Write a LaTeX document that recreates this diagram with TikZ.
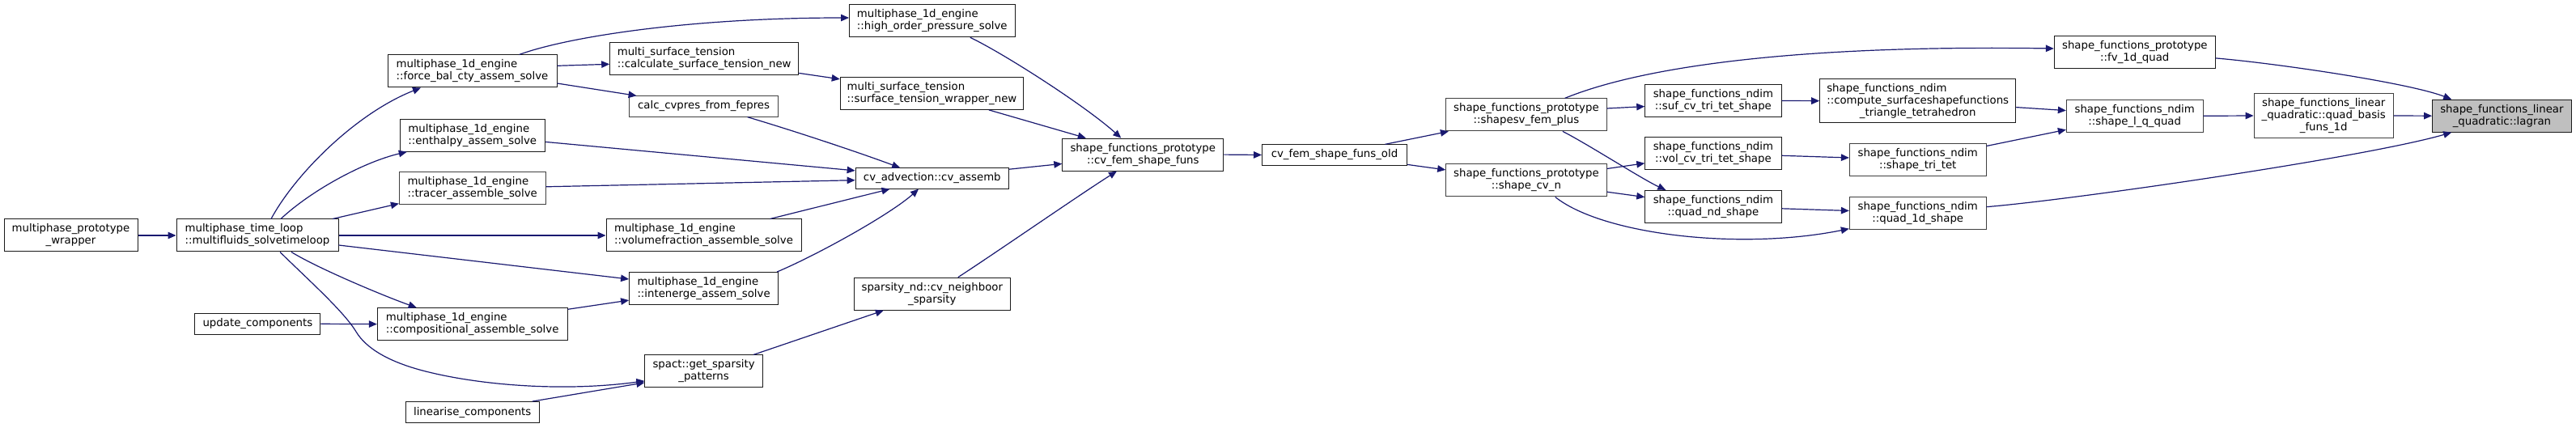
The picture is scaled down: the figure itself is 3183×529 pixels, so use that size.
\documentclass[tikz,border=0pt]{standalone}
\usepackage{fontspec}
\setmainfont{DejaVu Sans}
\usetikzlibrary{arrows.meta,calc}
\definecolor{edgec}{HTML}{191970}
\definecolor{bgray}{HTML}{404040}
\definecolor{bdark}{HTML}{1a1a1a}
\definecolor{hl}{HTML}{BFBFBF}
\newcommand\nodefont{\fontsize{13.3pt}{15pt}\selectfont}
\tikzset{
  nd/.style={draw=bdark, line width=1pt, fill=white, inner sep=0pt, font=\nodefont, align=center},
  ndl/.style={nd, align=left},
  gb/.style={draw=bgray},
  e/.style={draw=edgec, line width=1.2pt, -{Triangle[length=10pt,width=8.5pt]}},
}
\begin{document}
\begin{tikzpicture}[x=1pt,y=-1pt]
\useasboundingbox[fill=white] (0,0) rectangle (3183,529);
% nodes
\node[nd, minimum width=165pt, minimum height=40pt] (wrap) at (87.5,291) {multiphase\_prototype\\\_wrapper};
\node[ndl, minimum width=200pt, minimum height=40pt] (tl) at (318,291) {multiphase\_time\_loop\\::multifluids\_solvetimeloop};
\node[ndl, minimum width=209pt, minimum height=40pt] (fb) at (583.5,88) {multiphase\_1d\_engine\\::force\_bal\_cty\_assem\_solve};
\node[ndl, minimum width=179.5pt, minimum height=40pt] (en) at (583.8,167.2) {multiphase\_1d\_engine\\::enthalpy\_assem\_solve};
\node[ndl, gb, minimum width=180.6pt, minimum height=40pt] (tr) at (583.7,232.6) {multiphase\_1d\_engine\\::tracer\_assemble\_solve};
\node[ndl, minimum width=241pt, minimum height=40pt] (vf) at (869.5,291) {multiphase\_1d\_engine\\::volumefraction\_assemble\_solve};
\node[ndl, minimum width=184pt, minimum height=40pt] (ie) at (869.6,356.5) {multiphase\_1d\_engine\\::intenerge\_assem\_solve};
\node[ndl, minimum width=234.7pt, minimum height=40pt] (co) at (583.7,400.6) {multiphase\_1d\_engine\\::compositional\_assemble\_solve};
\node[nd, minimum width=155pt, minimum height=25.4pt] (uc) at (318.4,400.3) {update\_components};
\node[nd, minimum width=165pt, minimum height=26pt] (lc) at (583.7,509.6) {linearise\_components};
\node[ndl, minimum width=204.6pt, minimum height=40pt] (ho) at (1151.8,25.8) {multiphase\_1d\_engine\\::high\_order\_pressure\_solve};
\node[ndl, minimum width=233pt, minimum height=40pt] (cst) at (870.2,72.7) {multi\_surface\_tension\\::calculate\_surface\_tension\_new};
\node[ndl, minimum width=226.5pt, minimum height=40pt] (stw) at (1151.5,115.4) {multi\_surface\_tension\\::surface\_tension\_wrapper\_new};
\node[nd, gb, minimum width=184pt, minimum height=25.3pt] (ccp) at (869.6,131.5) {calc\_cvpres\_from\_fepres};
\node[nd, minimum width=189.3pt, minimum height=25.3pt] (cva) at (1151.8,220.5) {cv\_advection::cv\_assemb};
\node[nd, minimum width=199pt, minimum height=40pt] (cvf) at (1412.3,191.1) {shape\_functions\_prototype\\::cv\_fem\_shape\_funs};
\node[nd, minimum width=192.4pt, minimum height=40pt] (nb) at (1151.8,363.2) {sparsity\_nd::cv\_neighboor\\\_sparsity};
\node[nd, minimum width=145.4pt, minimum height=40pt] (sp) at (869.6,458.9) {spact::get\_sparsity\\\_patterns};
\node[nd, minimum width=179pt, minimum height=25.3pt] (old) at (1649,191.5) {cv\_fem\_shape\_funs\_old};
\node[nd, gb, minimum width=198.4pt, minimum height=40pt] (sv) at (1885.9,141.9) {shape\_functions\_prototype\\::shapesv\_fem\_plus};
\node[nd, gb, minimum width=198.4pt, minimum height=40pt] (scn) at (1885.9,223) {shape\_functions\_prototype\\::shape\_cv\_n};
\node[nd, minimum width=168.3pt, minimum height=40pt] (suf) at (2116.9,124.5) {shape\_functions\_ndim\\::suf\_cv\_tri\_tet\_shape};
\node[nd, minimum width=168.3pt, minimum height=40pt] (vol) at (2116.9,190) {shape\_functions\_ndim\\::vol\_cv\_tri\_tet\_shape};
\node[nd, minimum width=168.3pt, minimum height=40pt] (qnd) at (2116.9,255.3) {shape\_functions\_ndim\\::quad\_nd\_shape};
\node[nd, minimum width=242pt, minimum height=54pt] (csf) at (2369.7,124.7) {\rlap{shape\_functions\_ndim}\hphantom{::compute\_surfaceshapefunctions}\\::compute\_surfaceshapefunctions\\\_triangle\_tetrahedron};
\node[nd, gb, minimum width=168.7pt, minimum height=40pt] (stt) at (2369.7,198) {shape\_functions\_ndim\\::shape\_tri\_tet};
\node[nd, gb, minimum width=168.7pt, minimum height=40pt] (q1d) at (2369.7,263.2) {shape\_functions\_ndim\\::quad\_1d\_shape};
\node[nd, minimum width=199pt, minimum height=40pt] (fv) at (2637.8,64.5) {shape\_functions\_prototype\\::fv\_1d\_quad};
\node[nd, gb, minimum width=168.7pt, minimum height=40pt] (lq) at (2637.7,143.3) {shape\_functions\_ndim\\::shape\_l\_q\_quad};
\node[nd, gb, minimum width=172.3pt, minimum height=54.6pt] (qb) at (2871.2,143) {shape\_functions\_linear\\\_quadratic::quad\_basis\\\_funs\_1d};
\node[nd, fill=hl, minimum width=171.8pt, minimum height=40pt] (lag) at (3091.4,143.2) {shape\_functions\_linear\\\_quadratic::lagran};
% edges
\draw[e] (wrap.east) -- (tl.west);
\draw[e] ($(tl.north)+(17,0)$) .. controls (365,215) and (440,140) .. ($(fb.south)+(-63.5,0)$);
\draw[e] ($(tl.north)+(29,0)$) .. controls (385,235) and (450,200) .. ($(en.south)+(-81,0)$);
\draw[e] ($(tl.north)+(93,0)$) -- ($(tr.west)+(0,19)$);
\draw[e] (tl.east) -- (vf.west);
\draw[e] ($(tl.east)+(0,12)$) -- ($(ie.west)+(0,-11.5)$);
\draw[e] ($(tl.south)+(42,0)$) .. controls (395,333) and (480,368) .. ($(co.north)+(-69,0)$);
\draw[e] ($(tl.south)+(28,0)$) .. controls (380,345) and (425,385) .. (440,410) .. controls (452,430) and (480,448) .. (530,460) .. controls (600,477) and (700,484) .. ($(sp.west)+(0,12)$);
\draw[e] (uc.east) -- (co.west);
\draw[e] ($(lc.north)+(74,0)$) -- ($(sp.west)+(0,14)$);
\draw[e] ($(fb.north)+(58,0)$) .. controls (700,46) and (850,22) .. ($(ho.west)+(0,-3.8)$);
\draw[e] ($(fb.east)+(0,-6.7)$) -- ($(cst.west)+(0,6.6)$);
\draw[e] ($(fb.east)+(0,15)$) -- ($(ccp.north)+(-83,0)$);
\draw[e] ($(cst.east)+(0,17.7)$) -- ($(stw.west)+(0,-17.6)$);
\draw[e] ($(ho.south)+(47,0)$) .. controls (1240,66) and (1340,130) .. ($(cvf.north)+(-27,0)$);
\draw[e] ($(stw.south)+(70.4,0)$) -- ($(cvf.north)+(-70.5,0)$);
\draw[e] ($(ccp.south)+(54,0)$) .. controls (985,163) and (1060,188) .. ($(cva.north)+(-39.6,0)$);
\draw[e] ($(en.east)+(0,8.2)$) -- ($(cva.west)+(0,-9.6)$);
\draw[e] ($(tr.east)+(0,-1.8)$) -- ($(cva.west)+(0,2.2)$);
\draw[e] ($(vf.north)+(82,0)$) -- ($(cva.south)+(-52.3,0)$);
\draw[e] ($(ie.north)+(90.6,0)$) .. controls (1010,315) and (1100,265) .. ($(cva.south)+(-16.8,0)$);
\draw[e] ($(co.east)+(0,-18.3)$) -- ($(ie.west)+(0,14.6)$);
\draw[e] ($(cva.east)+(0,-11.3)$) -- ($(cvf.west)+(0,11.3)$);
\draw[e] ($(nb.north)+(32,0)$) .. controls (1234,310) and (1335,240) .. ($(cvf.south)+(-32.3,0)$);
\draw[e] ($(sp.north)+(61.5,0)$) -- ($(nb.south)+(-60,0)$);
\draw[e] (cvf.east) -- (old.west);
\draw[e] ($(old.north)+(62.4,0)$) -- ($(sv.south)+(-96,0)$);
\draw[e] ($(old.east)+(0,11.9)$) -- ($(scn.west)+(0,-13.1)$);
\draw[e] ($(sv.north)+(47.7,0)$) .. controls (2020,86) and (2200,55) .. ($(fv.west)+(0,-4.5)$);
\draw[e] ($(sv.east)+(0,-7.9)$) -- ($(suf.west)+(0,7.1)$);
\draw[e] ($(sv.south)+(45,0)$) .. controls (1960,177) and (2030,222) .. ($(qnd.north)+(-58.6,0)$);
\draw[e] ($(scn.east)+(0,-14.5)$) -- ($(vol.west)+(0,11.8)$);
\draw[e] ($(scn.east)+(0,14.2)$) -- ($(qnd.west)+(0,-11.7)$);
\draw[e] ($(scn.south)+(35.8,0)$) .. controls (1980,290) and (2150,310) .. ($(q1d.south west)+(0,-1)$);
\draw[e] (suf.east) -- (csf.west);
\draw[e] ($(vol.east)+(0,2.3)$) -- ($(stt.west)+(0,-3)$);
\draw[e] ($(qnd.east)+(0,2.5)$) -- ($(q1d.west)+(0,-2.7)$);
\draw[e] ($(csf.east)+(0,7.9)$) -- ($(lq.west)+(0,-6.7)$);
\draw[e] ($(stt.east)+(0,-17.5)$) -- ($(lq.west)+(0,17)$);
\draw[e] (lq.east) -- (qb.west);
\draw[e] (qb.east) -- (lag.west);
\draw[e] ($(fv.east)+(0,7.4)$) .. controls (2810,78) and (2975,102) .. ($(lag.north)+(-62.2,0)$);
\draw[e] ($(q1d.east)+(0,-7.5)$) .. controls (2560,247) and (2920,195) .. ($(lag.south)+(-62.2,0)$);
\end{tikzpicture}
\end{document}
